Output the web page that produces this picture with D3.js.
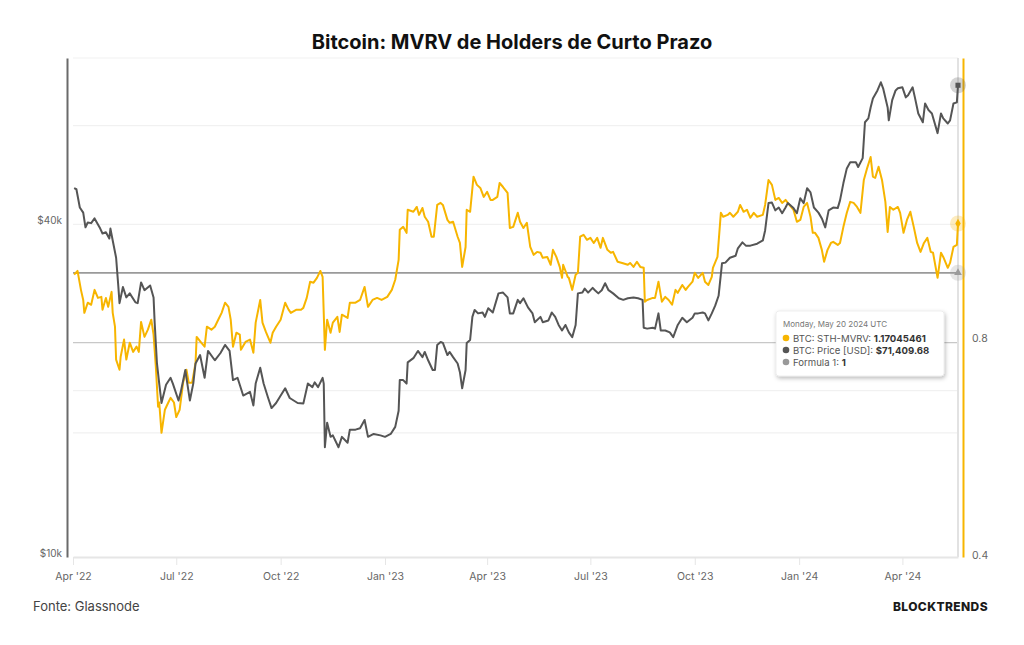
<!DOCTYPE html>
<html lang="pt">
<head>
<meta charset="utf-8">
<title>Bitcoin: MVRV de Holders de Curto Prazo</title>
<script src="https://d3js.org/d3.v7.min.js"></script>
<style>
  body { margin: 0; background: #fff; }
  text { font-family: Inter, "Open Sans", sans-serif; }
</style>
</head>
<body>
<script>
// chart size and plot box
const W = 1024, H = 645;
const plotL = 73, plotR = 958, plotT = 58, plotB = 557;

// BTC price (USD)
const priceData = [["2022-04-02",46500],["2022-04-04",46300],["2022-04-07",42900],["2022-04-10",42000],["2022-04-12",39500],["2022-04-14",40300],["2022-04-17",40200],["2022-04-20",41000],["2022-04-25",39300],["2022-04-27",38500],["2022-04-30",38700],["2022-05-03",37700],["2022-05-04",39300],["2022-05-06",37400],["2022-05-09",34800],["2022-05-11",30800],["2022-05-12",28800],["2022-05-15",30800],["2022-05-18",29500],["2022-05-21",30000],["2022-05-26",28900],["2022-05-28",28800],["2022-05-31",31400],["2022-06-03",30400],["2022-06-08",31000],["2022-06-11",29500],["2022-06-12",26500],["2022-06-14",22400],["2022-06-16",20600],["2022-06-18",19000],["2022-06-22",20500],["2022-06-26",21100],["2022-06-28",20600],["2022-07-03",19200],["2022-07-05",19900],["2022-07-09",21800],["2022-07-10",21100],["2022-07-13",19200],["2022-07-16",20600],["2022-07-18",22400],["2022-07-22",23200],["2022-07-26",21100],["2022-07-29",23600],["2022-08-04",22700],["2022-08-09",23400],["2022-08-13",24200],["2022-08-17",23600],["2022-08-20",20900],["2022-08-24",21100],["2022-08-29",19600],["2022-09-04",19900],["2022-09-07",18800],["2022-09-09",20600],["2022-09-13",22000],["2022-09-16",20600],["2022-09-20",19400],["2022-09-23",18600],["2022-09-27",19000],["2022-10-05",20200],["2022-10-09",19400],["2022-10-16",19000],["2022-10-21",18950],["2022-10-25",20600],["2022-10-29",20300],["2022-10-31",20700],["2022-11-03",20300],["2022-11-07",21100],["2022-11-08",20600],["2022-11-09",15800],["2022-11-11",17500],["2022-11-14",16500],["2022-11-16",16600],["2022-11-21",15800],["2022-11-24",16500],["2022-11-29",16100],["2022-12-01",17000],["2022-12-06",17000],["2022-12-10",17100],["2022-12-14",17700],["2022-12-17",16500],["2022-12-22",16700],["2022-12-28",16600],["2023-01-01",16500],["2023-01-06",16700],["2023-01-10",17200],["2023-01-13",18400],["2023-01-14",20900],["2023-01-17",20900],["2023-01-20",20600],["2023-01-21",22500],["2023-01-26",22900],["2023-01-30",23600],["2023-02-03",23000],["2023-02-05",23500],["2023-02-08",22700],["2023-02-12",21800],["2023-02-14",21800],["2023-02-16",24200],["2023-02-19",24500],["2023-02-21",24400],["2023-02-25",23200],["2023-02-27",23500],["2023-03-02",23000],["2023-03-06",22400],["2023-03-08",21600],["2023-03-10",20200],["2023-03-13",21800],["2023-03-14",24400],["2023-03-17",24700],["2023-03-19",27200],["2023-03-21",28000],["2023-03-24",27600],["2023-03-28",27700],["2023-03-30",27200],["2023-04-02",28200],["2023-04-06",27700],["2023-04-11",30000],["2023-04-15",30100],["2023-04-19",29500],["2023-04-21",27600],["2023-04-24",27600],["2023-04-28",29200],["2023-04-30",28800],["2023-05-03",29400],["2023-05-07",28300],["2023-05-11",27600],["2023-05-13",26600],["2023-05-18",27200],["2023-05-20",26600],["2023-05-25",26800],["2023-05-28",27700],["2023-05-31",27200],["2023-06-03",26300],["2023-06-06",25700],["2023-06-09",26300],["2023-06-12",25500],["2023-06-15",25000],["2023-06-18",26300],["2023-06-20",30000],["2023-06-24",30100],["2023-06-26",30600],["2023-06-29",30100],["2023-07-03",30700],["2023-07-05",30400],["2023-07-08",30000],["2023-07-11",30400],["2023-07-14",31300],["2023-07-17",30400],["2023-07-21",30000],["2023-07-26",29400],["2023-07-30",29200],["2023-08-03",29400],["2023-08-08",29500],["2023-08-12",29400],["2023-08-16",29200],["2023-08-17",26000],["2023-08-20",25900],["2023-08-25",26000],["2023-08-27",25900],["2023-08-30",27600],["2023-09-01",25700],["2023-09-05",25700],["2023-09-09",25500],["2023-09-12",25000],["2023-09-16",26300],["2023-09-20",27100],["2023-09-24",26600],["2023-09-29",27100],["2023-10-01",27600],["2023-10-04",27600],["2023-10-08",27700],["2023-10-10",27600],["2023-10-13",26800],["2023-10-16",27600],["2023-10-19",28500],["2023-10-22",29700],["2023-10-25",34000],["2023-10-28",34100],["2023-11-01",34800],["2023-11-06",35100],["2023-11-08",36200],["2023-11-12",37100],["2023-11-15",36600],["2023-11-19",36600],["2023-11-25",36900],["2023-11-30",37400],["2023-12-02",39000],["2023-12-05",43700],["2023-12-08",43800],["2023-12-11",42400],["2023-12-14",42900],["2023-12-17",41900],["2023-12-20",42900],["2023-12-22",43700],["2023-12-27",42800],["2023-12-30",41900],["2024-01-02",44600],["2024-01-05",43700],["2024-01-08",46500],["2024-01-11",45700],["2024-01-14",42900],["2024-01-18",42000],["2024-01-21",41000],["2024-01-24",39500],["2024-01-27",42400],["2024-01-31",42900],["2024-02-04",42800],["2024-02-06",44200],["2024-02-09",47500],["2024-02-12",50500],["2024-02-15",51800],["2024-02-20",51800],["2024-02-22",50800],["2024-02-26",52700],["2024-02-28",61200],["2024-03-02",62200],["2024-03-04",65100],["2024-03-06",67600],["2024-03-10",69900],["2024-03-13",72300],["2024-03-15",70500],["2024-03-19",65100],["2024-03-20",61700],["2024-03-23",67100],["2024-03-26",69900],["2024-03-28",70500],["2024-04-01",70800],["2024-04-04",67900],["2024-04-06",68500],["2024-04-10",70800],["2024-04-12",67900],["2024-04-15",63500],["2024-04-19",61200],["2024-04-21",66200],["2024-04-24",64400],["2024-04-27",63500],["2024-05-02",58500],["2024-05-05",63500],["2024-05-07",62200],["2024-05-11",60900],["2024-05-13",61700],["2024-05-16",66200],["2024-05-19",66500],["2024-05-20",71409.68]];

// BTC STH-MVRV
const mvrvData = [["2022-04-02",0.994],["2022-04-05",1.006],["2022-04-08",0.947],["2022-04-10",0.917],["2022-04-11",0.880],["2022-04-14",0.909],["2022-04-17",0.903],["2022-04-20",0.947],["2022-04-23",0.923],["2022-04-26",0.926],["2022-04-27",0.889],["2022-04-30",0.923],["2022-05-02",0.897],["2022-05-05",0.941],["2022-05-06",0.880],["2022-05-08",0.842],["2022-05-09",0.758],["2022-05-12",0.734],["2022-05-13",0.765],["2022-05-16",0.808],["2022-05-18",0.758],["2022-05-21",0.800],["2022-05-24",0.777],["2022-05-27",0.790],["2022-05-29",0.777],["2022-05-31",0.855],["2022-06-03",0.815],["2022-06-06",0.834],["2022-06-09",0.861],["2022-06-11",0.821],["2022-06-13",0.741],["2022-06-15",0.652],["2022-06-16",0.661],["2022-06-18",0.600],["2022-06-21",0.646],["2022-06-24",0.661],["2022-06-26",0.671],["2022-06-29",0.661],["2022-07-01",0.631],["2022-07-04",0.646],["2022-07-07",0.704],["2022-07-10",0.734],["2022-07-12",0.704],["2022-07-15",0.704],["2022-07-18",0.750],["2022-07-19",0.815],["2022-07-23",0.800],["2022-07-26",0.790],["2022-07-28",0.842],["2022-08-01",0.834],["2022-08-04",0.842],["2022-08-07",0.861],["2022-08-10",0.880],["2022-08-13",0.909],["2022-08-16",0.897],["2022-08-18",0.861],["2022-08-20",0.790],["2022-08-23",0.826],["2022-08-26",0.821],["2022-08-27",0.782],["2022-08-31",0.802],["2022-09-04",0.808],["2022-09-07",0.775],["2022-09-09",0.853],["2022-09-13",0.917],["2022-09-15",0.853],["2022-09-18",0.828],["2022-09-22",0.800],["2022-09-24",0.826],["2022-09-27",0.842],["2022-10-01",0.861],["2022-10-05",0.909],["2022-10-08",0.889],["2022-10-10",0.880],["2022-10-15",0.889],["2022-10-19",0.889],["2022-10-21",0.894],["2022-10-24",0.923],["2022-10-27",0.972],["2022-10-30",0.969],["2022-11-02",0.984],["2022-11-05",1.006],["2022-11-07",0.987],["2022-11-09",0.782],["2022-11-11",0.861],["2022-11-14",0.826],["2022-11-16",0.853],["2022-11-20",0.869],["2022-11-22",0.828],["2022-11-24",0.875],["2022-11-29",0.866],["2022-12-01",0.909],["2022-12-06",0.909],["2022-12-10",0.917],["2022-12-14",0.956],["2022-12-17",0.897],["2022-12-21",0.917],["2022-12-25",0.923],["2022-12-29",0.917],["2023-01-03",0.926],["2023-01-07",0.947],["2023-01-10",0.978],["2023-01-13",1.042],["2023-01-14",1.147],["2023-01-17",1.158],["2023-01-20",1.136],["2023-01-21",1.223],["2023-01-26",1.215],["2023-01-29",1.234],["2023-01-31",1.203],["2023-02-03",1.230],["2023-02-05",1.196],["2023-02-08",1.177],["2023-02-11",1.122],["2023-02-13",1.122],["2023-02-16",1.242],["2023-02-19",1.250],["2023-02-21",1.242],["2023-02-25",1.184],["2023-02-27",1.173],["2023-03-02",1.177],["2023-03-06",1.122],["2023-03-08",1.100],["2023-03-10",1.019],["2023-03-13",1.086],["2023-03-14",1.223],["2023-03-17",1.215],["2023-03-20",1.359],["2023-03-23",1.324],["2023-03-26",1.311],["2023-03-29",1.274],["2023-04-01",1.295],["2023-04-04",1.262],["2023-04-06",1.262],["2023-04-10",1.274],["2023-04-12",1.332],["2023-04-15",1.315],["2023-04-19",1.291],["2023-04-21",1.154],["2023-04-24",1.158],["2023-04-28",1.211],["2023-04-30",1.177],["2023-05-03",1.154],["2023-05-06",1.173],["2023-05-09",1.086],["2023-05-12",1.059],["2023-05-15",1.069],["2023-05-18",1.066],["2023-05-20",1.049],["2023-05-24",1.052],["2023-05-27",1.026],["2023-05-29",1.076],["2023-06-01",1.052],["2023-06-04",1.019],["2023-06-06",0.984],["2023-06-07",1.026],["2023-06-11",0.987],["2023-06-12",0.984],["2023-06-15",0.947],["2023-06-18",0.994],["2023-06-20",1.000],["2023-06-22",1.122],["2023-06-25",1.129],["2023-06-28",1.111],["2023-07-01",1.118],["2023-07-04",1.100],["2023-07-07",1.118],["2023-07-10",1.083],["2023-07-12",1.118],["2023-07-16",1.076],["2023-07-19",1.066],["2023-07-21",1.069],["2023-07-25",1.036],["2023-07-29",1.032],["2023-08-03",1.026],["2023-08-05",1.032],["2023-08-08",1.019],["2023-08-11",1.036],["2023-08-14",1.019],["2023-08-17",1.016],["2023-08-18",0.912],["2023-08-20",0.917],["2023-08-25",0.923],["2023-08-27",0.923],["2023-08-30",0.972],["2023-09-02",0.912],["2023-09-05",0.926],["2023-09-08",0.917],["2023-09-11",0.903],["2023-09-14",0.947],["2023-09-16",0.938],["2023-09-20",0.962],["2023-09-23",0.947],["2023-09-25",0.956],["2023-09-29",0.972],["2023-10-01",1.000],["2023-10-04",0.984],["2023-10-08",1.000],["2023-10-10",0.972],["2023-10-13",0.962],["2023-10-16",0.987],["2023-10-17",1.016],["2023-10-21",1.052],["2023-10-24",1.211],["2023-10-26",1.196],["2023-10-30",1.203],["2023-11-01",1.211],["2023-11-04",1.196],["2023-11-08",1.215],["2023-11-10",1.242],["2023-11-13",1.215],["2023-11-16",1.223],["2023-11-19",1.192],["2023-11-22",1.211],["2023-11-25",1.196],["2023-11-30",1.203],["2023-12-02",1.242],["2023-12-05",1.345],["2023-12-08",1.324],["2023-12-11",1.262],["2023-12-14",1.270],["2023-12-17",1.250],["2023-12-20",1.262],["2023-12-22",1.250],["2023-12-27",1.223],["2023-12-30",1.177],["2024-01-02",1.184],["2024-01-05",1.234],["2024-01-08",1.250],["2024-01-11",1.196],["2024-01-13",1.136],["2024-01-15",1.136],["2024-01-18",1.118],["2024-01-21",1.076],["2024-01-23",1.036],["2024-01-26",1.076],["2024-01-29",1.100],["2024-01-31",1.104],["2024-02-04",1.093],["2024-02-06",1.100],["2024-02-09",1.158],["2024-02-12",1.211],["2024-02-15",1.254],["2024-02-18",1.250],["2024-02-21",1.234],["2024-02-24",1.211],["2024-02-27",1.345],["2024-03-01",1.398],["2024-03-04",1.447],["2024-03-06",1.359],["2024-03-08",1.354],["2024-03-11",1.403],["2024-03-14",1.345],["2024-03-17",1.254],["2024-03-19",1.139],["2024-03-21",1.234],["2024-03-24",1.223],["2024-03-28",1.234],["2024-03-30",1.211],["2024-04-02",1.136],["2024-04-05",1.184],["2024-04-08",1.215],["2024-04-11",1.158],["2024-04-14",1.100],["2024-04-17",1.069],["2024-04-20",1.100],["2024-04-23",1.118],["2024-04-26",1.069],["2024-04-28",1.066],["2024-05-02",0.984],["2024-05-05",1.066],["2024-05-07",1.052],["2024-05-11",1.016],["2024-05-13",1.032],["2024-05-16",1.086],["2024-05-19",1.093],["2024-05-20",1.17045461]];

// Formula 1 = 1 across the whole range
const formulaData = [["2022-04-01",1],["2024-05-20",1]];

const xDomain = ["2022-04-01","2024-05-20"];
const xTicks = ["2022-04-01","2022-07-01","2022-10-01","2023-01-01","2023-04-01","2023-07-01","2023-10-01","2024-01-01","2024-04-01"];
const priceDomain = [10000, 80000];
const priceTicks = [10000, 40000];
const priceGrid = [20000, 40000, 80000];
const mvrvDomain = [0.4037, 1.985];
const mvrvTicks = [0.4, 0.8];
const mvrvGrid = [0.6, 1.6];

const tipDate = "Monday, May 20 2024 UTC";
const tipRows = [
  {label: "BTC: STH-MVRV: ", value: "1.17045461", color: "#f7b500"},
  {label: "BTC: Price [USD]: ", value: "$71,409.68", color: "#555555"},
  {label: "Formula 1: ", value: "1", color: "#999999"}
];

const ORANGE = "#f7b500", DARK = "#555555", GREY = "#9a9a9a";

const parse = d3.utcParse("%Y-%m-%d");

const x = d3.scaleUtc().domain(xDomain.map(parse)).range([plotL, plotR]);
const yPrice = d3.scaleLog().domain(priceDomain).range([plotB, plotT]);
const yMvrv = d3.scaleLog().domain(mvrvDomain).range([plotB, plotT]);

const svg = d3.select("body").append("svg")
  .attr("width", W).attr("height", H);

const defs = svg.append("defs");
const shadow = defs.append("filter").attr("id", "shadow")
  .attr("x", "-20%").attr("y", "-30%").attr("width", "140%").attr("height", "170%");
shadow.append("feDropShadow").attr("dx", 1).attr("dy", 2).attr("stdDeviation", 2)
  .attr("flood-color", "#000").attr("flood-opacity", 0.28);

// title
svg.append("text")
  .attr("x", 512).attr("y", 49)
  .attr("text-anchor", "middle")
  .attr("font-size", 20).attr("font-weight", 700).attr("fill", "#111")
  .text("Bitcoin: MVRV de Holders de Curto Prazo");

// gridlines
const grid = svg.append("g");
grid.selectAll("line.pg").data(priceGrid).join("line")
  .attr("x1", plotL).attr("x2", plotR)
  .attr("y1", d => yPrice(d)).attr("y2", d => yPrice(d))
  .attr("stroke", "#f1f1f1").attr("stroke-width", 1.2);
grid.selectAll("line.mg").data(mvrvGrid).join("line")
  .attr("class", "mg")
  .attr("x1", plotL).attr("x2", plotR)
  .attr("y1", d => yMvrv(d)).attr("y2", d => yMvrv(d))
  .attr("stroke", "#f1f1f1").attr("stroke-width", 1.2);
grid.append("line")
  .attr("x1", plotL).attr("x2", plotR)
  .attr("y1", yMvrv(0.8)).attr("y2", yMvrv(0.8))
  .attr("stroke", "#c8c8c8").attr("stroke-width", 1.3);

// crosshair on the last date
svg.append("line")
  .attr("x1", plotR).attr("x2", plotR).attr("y1", plotT).attr("y2", plotB)
  .attr("stroke", "#e2e2e2").attr("stroke-width", 2);

// bottom axis
const xAxis = svg.append("g")
  .attr("transform", "translate(0," + plotB + ")")
  .call(d3.axisBottom(x).tickValues(xTicks.map(parse))
    .tickFormat(d3.utcFormat("%b '%y")).tickSize(8).tickSizeOuter(0).tickPadding(8));
xAxis.select(".domain").attr("stroke", "#e6e6e6").attr("stroke-width", 2);
xAxis.selectAll(".tick line").attr("stroke", "#e6e6e6");
xAxis.selectAll("text").attr("fill", "#666").attr("font-size", 10.5)
  .attr("font-family", "Inter, sans-serif");

// left axis (price)
const yAxisL = svg.append("g")
  .attr("transform", "translate(67,0)")
  .call(d3.axisLeft(yPrice).tickValues(priceTicks)
    .tickFormat(d => "$" + d / 1000 + "k").tickSize(0).tickSizeOuter(0).tickPadding(5));
yAxisL.select(".domain").attr("stroke", "#6a6a6a").attr("stroke-width", 2);
yAxisL.selectAll("text").attr("fill", "#666").attr("font-size", 10)
  .attr("font-family", "Inter, sans-serif").attr("dy", "-0.05em");

// right axis (STH-MVRV)
const yAxisR = svg.append("g")
  .attr("transform", "translate(963,0)")
  .call(d3.axisRight(yMvrv).tickValues(mvrvTicks)
    .tickFormat(d3.format(".1f")).tickSize(0).tickSizeOuter(0).tickPadding(9));
yAxisR.select(".domain").attr("stroke", ORANGE).attr("stroke-width", 2);
yAxisR.selectAll("text").attr("fill", "#666").attr("font-size", 10.5)
  .attr("font-family", "Inter, sans-serif").attr("dy", "-0.1em");

// series
const lineMvrv = d3.line().x(d => x(parse(d[0]))).y(d => yMvrv(d[1]));
const linePrice = d3.line().x(d => x(parse(d[0]))).y(d => yPrice(d[1]));

svg.append("path").datum(formulaData)
  .attr("d", lineMvrv).attr("fill", "none")
  .attr("stroke", GREY).attr("stroke-width", 1.7);

svg.append("path").datum(mvrvData)
  .attr("d", lineMvrv).attr("fill", "none")
  .attr("stroke", ORANGE).attr("stroke-width", 2).attr("stroke-linejoin", "round");

svg.append("path").datum(priceData)
  .attr("d", linePrice).attr("fill", "none")
  .attr("stroke", DARK).attr("stroke-width", 2).attr("stroke-linejoin", "round");

// hover markers at the last point
const lastP = priceData[priceData.length - 1];
const lastM = mvrvData[mvrvData.length - 1];
const lastF = formulaData[formulaData.length - 1];
const mx = x(parse(lastP[0]));

const markers = [
  {y: yPrice(lastP[1]), color: DARK, shape: d3.symbolSquare},
  {y: yMvrv(lastM[1]), color: ORANGE, shape: d3.symbolDiamond},
  {y: yMvrv(lastF[1]), color: GREY, shape: d3.symbolTriangle}
];
const mk = svg.append("g");
mk.selectAll("circle").data(markers).join("circle")
  .attr("cx", mx).attr("cy", d => d.y).attr("r", 8)
  .attr("fill", d => d.color).attr("fill-opacity", 0.25);
mk.selectAll("path").data(markers).join("path")
  .attr("transform", d => "translate(" + mx + "," + d.y + ")")
  .attr("d", d => d3.symbol().type(d.shape).size(26)())
  .attr("fill", d => d.color);

// tooltip
const tip = svg.append("g").attr("transform", "translate(776,311)");
tip.append("rect")
  .attr("width", 168).attr("height", 65).attr("rx", 3)
  .attr("fill", "#fff").attr("stroke", "#e4e4e4").attr("stroke-width", 0.6)
  .attr("filter", "url(#shadow)");
tip.append("text")
  .attr("x", 7).attr("y", 16)
  .attr("font-size", 8).attr("fill", "#777")
  .text(tipDate);
const rows = tip.selectAll("g.row").data(tipRows).join("g")
  .attr("class", "row")
  .attr("transform", (d, i) => "translate(0," + (27 + i * 12) + ")");
rows.append("circle").attr("cx", 10).attr("cy", 0).attr("r", 3.3)
  .attr("fill", d => d.color);
const rt = rows.append("text").attr("x", 17).attr("y", 3.6)
  .attr("font-size", 9.6).attr("fill", "#555");
rt.append("tspan").text(d => d.label);
rt.append("tspan").attr("font-weight", 700).attr("fill", "#333").text(d => d.value);

// footer
svg.append("text")
  .attr("x", 33).attr("y", 611)
  .attr("font-size", 13).attr("fill", "#444")
  .text("Fonte: Glassnode");
svg.append("text")
  .attr("x", 988).attr("y", 611)
  .attr("text-anchor", "end")
  .attr("font-size", 12).attr("font-weight", 800).attr("fill", "#1a1a1a")
  .attr("letter-spacing", 0.4)
  .text("BLOCKTRENDS");
</script>
</body>
</html>
